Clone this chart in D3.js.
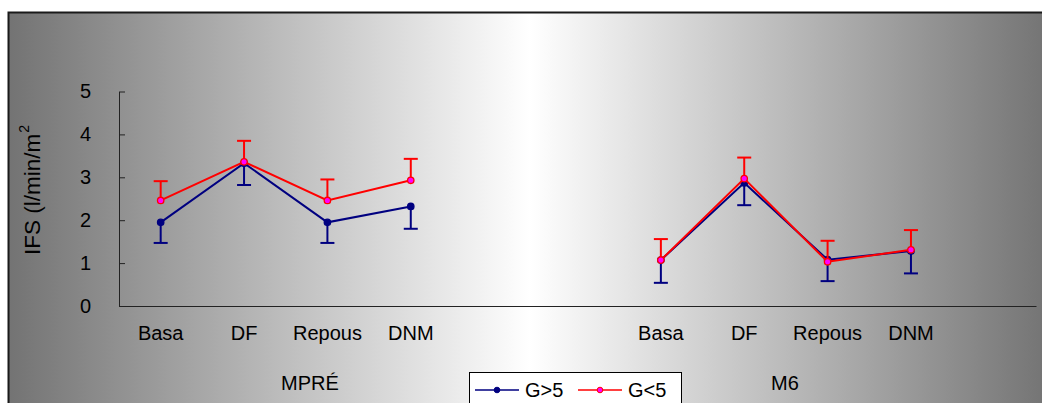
<!DOCTYPE html>
<html>
<head>
<meta charset="utf-8">
<script src="https://cdn.jsdelivr.net/npm/d3@7"></script>
<style>
  html, body { margin: 0; padding: 0; background: #fff; }
  svg { display: block; font-family: "Liberation Sans", Arial, sans-serif; }
</style>
</head>
<body>
<svg id="chart" width="1042" height="403"></svg>
<script>
// ---- data ----
const groups = ["MPRÉ", "M6"];
const categories = ["Basa", "DF", "Repous", "DNM"];
const slots = ["MPRÉ|Basa", "MPRÉ|DF", "MPRÉ|Repous", "MPRÉ|DNM", "gap1", "gap2",
               "M6|Basa", "M6|DF", "M6|Repous", "M6|DNM", "gap3"];
const seriesNames = ["G>5", "G<5"];
const gSup5Mean = [1.95, 3.33, 1.95, 2.32, 1.07, 2.87, 1.08, 1.28];
const gSup5Err  = [0.48, 0.51, 0.48, 0.52, 0.53, 0.52, 0.50, 0.52];
const gInf5Mean = [2.46, 3.36, 2.46, 2.93, 1.07, 2.97, 1.03, 1.31];
const gInf5Err  = [0.45, 0.49, 0.49, 0.50, 0.49, 0.49, 0.49, 0.46];
const yTicks = [0, 1, 2, 3, 4, 5];

// ---- layout ----
const W = 1042, H = 403;
const plot = { left: 119, right: 1036, top: 91.5, bottom: 306 };
const svg = d3.select("#chart");
const FONT = 20;

// background gradient
const defs = svg.append("defs");
const grad = defs.append("linearGradient").attr("id", "bg")
  .attr("x1", "0%").attr("x2", "100%").attr("y1", "0%").attr("y2", "0%");
grad.append("stop").attr("offset", "0%").attr("stop-color", "#737373");
grad.append("stop").attr("offset", "50%").attr("stop-color", "#ffffff");
grad.append("stop").attr("offset", "100%").attr("stop-color", "#737373");

svg.append("rect").attr("x", 8.5).attr("y", 12.5)
  .attr("width", W).attr("height", H)
  .attr("fill", "url(#bg)").attr("stroke", "#1a1a1a").attr("stroke-width", 2);

// scales
const x = d3.scaleBand().domain(slots).range([plot.left, plot.right]);
const y = d3.scaleLinear().domain([0, 5]).range([plot.bottom, plot.top]);
const cx = k => x(k) + x.bandwidth() / 2;

// y axis
const yAxis = d3.axisLeft(y).tickValues(yTicks).tickFormat(d3.format("d"))
  .tickSizeInner(-6).tickSizeOuter(0).tickPadding(28);
const gy = svg.append("g").attr("transform", `translate(${plot.left},0)`).call(yAxis);
gy.select(".domain").attr("stroke", "#222");
gy.selectAll(".tick line").attr("stroke", "#222");
gy.selectAll(".tick text").attr("font-size", FONT).attr("fill", "#000")
  .attr("font-family", "Liberation Sans, Arial, sans-serif");

// x axis
const catName = s => s.indexOf("|") >= 0 ? s.split("|")[1] : "";
const xAxis = d3.axisBottom(x).tickSize(0).tickPadding(20).tickFormat(catName);
const gx = svg.append("g").attr("transform", `translate(0,${plot.bottom})`).call(xAxis);
gx.select(".domain").attr("stroke", "#222").attr("stroke-width", 1.2);
gx.selectAll(".tick text").attr("font-size", FONT).attr("fill", "#000")
  .attr("font-family", "Liberation Sans, Arial, sans-serif");

// group labels
const groupLabelX = [310, 785];
svg.selectAll("text.grp").data(groups).join("text").attr("class", "grp")
  .attr("x", (d, i) => groupLabelX[i]).attr("y", 390)
  .attr("text-anchor", "middle").attr("font-size", FONT).attr("fill", "#000")
  .text(d => d);

// y label
const yl = svg.append("text").attr("transform", "translate(40,255) rotate(-90)")
  .attr("font-size", 22.5).attr("fill", "#000");
yl.append("tspan").text("IFS (l/min/m");
yl.append("tspan").attr("font-size", 14).attr("dx", 1).attr("dy", -11).text("2");

// series
const keyFor = i => (i < 4 ? "MPRÉ|" : "M6|") + categories[i % 4];
function buildSeries(means, errs) {
  return means.map((m, i) => ({ key: keyFor(i), grp: i < 4 ? 0 : 1, v: m, e: errs[i] }));
}
const series = [
  { name: seriesNames[0], data: buildSeries(gSup5Mean, gSup5Err), color: "#000080", fill: "#000080", dir: -1 },
  { name: seriesNames[1], data: buildSeries(gInf5Mean, gInf5Err), color: "#ff0000", fill: "#ff00ff", dir: 1 }
];

const line = d3.line().x(d => cx(d.key)).y(d => y(d.v));
const cap = 7;

series.forEach(s => {
  const g = svg.append("g");
  // error bars
  s.data.forEach(d => {
    const yEnd = y(d.v + s.dir * d.e);
    g.append("line").attr("x1", cx(d.key)).attr("x2", cx(d.key))
      .attr("y1", y(d.v)).attr("y2", yEnd)
      .attr("stroke", s.color).attr("stroke-width", 2);
    g.append("line").attr("x1", cx(d.key) - cap).attr("x2", cx(d.key) + cap)
      .attr("y1", yEnd).attr("y2", yEnd)
      .attr("stroke", s.color).attr("stroke-width", 2);
  });
  // lines per group
  groups.forEach((gr, gi) => {
    g.append("path").datum(s.data.filter(d => d.grp === gi))
      .attr("d", line).attr("fill", "none")
      .attr("stroke", s.color).attr("stroke-width", 2);
  });
  // markers
  g.selectAll("circle").data(s.data).join("circle")
    .attr("cx", d => cx(d.key)).attr("cy", d => y(d.v)).attr("r", 3.2)
    .attr("fill", s.fill).attr("stroke", s.color).attr("stroke-width", 1.3);
});

// legend
const lg = svg.append("g");
lg.append("rect").attr("x", 469.5).attr("y", 372.5).attr("width", 212).attr("height", 40)
  .attr("fill", "#fff").attr("stroke", "#000").attr("stroke-width", 1);
const legendX = [475, 578];
series.forEach((s, i) => {
  const lx = legendX[i], ly = 390;
  lg.append("line").attr("x1", lx).attr("x2", lx + 44).attr("y1", ly).attr("y2", ly)
    .attr("stroke", s.color).attr("stroke-width", 1.5);
  lg.append("circle").attr("cx", lx + 22).attr("cy", ly).attr("r", 2.8)
    .attr("fill", s.fill).attr("stroke", s.color).attr("stroke-width", 1);
  lg.append("text").attr("x", lx + 50).attr("y", 397).attr("font-size", FONT)
    .attr("fill", "#000").text(s.name);
});
</script>
</body>
</html>
